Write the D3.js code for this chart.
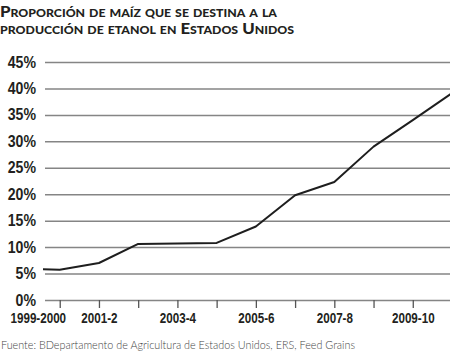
<!DOCTYPE html>
<html>
<head>
<meta charset="utf-8">
<script src="https://cdn.jsdelivr.net/npm/d3@7"></script>
<style>
	body { margin: 0; background: #fff; }
	svg { display: block; }
	.title { font-family: Lato, "Open Sans", sans-serif; font-weight: 900; font-size: 15px; font-variant: small-caps; fill: #231f20; }
	.source { font-family: Lato, "Noto Sans", sans-serif; font-weight: 300; font-size: 12px; fill: #444; }
	.axis text { font-family: "Liberation Sans Narrow", "Arial Narrow", "Liberation Sans", sans-serif; font-weight: bold; fill: #231f20; }
	.axis--left text { font-size: 17px; }
	.axis--bottom text { font-size: 14px; }
	.grid line { stroke: #858585; stroke-width: 1.5; }
	.axis--ticks line { stroke: #555; stroke-width: 1.3; }
	.chart-path { fill: none; stroke: #1e1e1e; stroke-width: 2; stroke-linejoin: round; }
</style>
</head>
<body>
<svg id="line-chart" width="450" height="354"></svg>
<script>
	// crop years (start year of each season)
	var seasonYears = [1999, 2000, 2001, 2002, 2003, 2004, 2005, 2006, 2007, 2008, 2009, 2010];
	// share of US corn used for ethanol, %
	var ethanolShare = [6.0, 5.7, 7.0, 10.6, 10.7, 10.8, 13.9, 19.8, 22.3, 29.0, 34.0, 39.1];
	var yTicks = [0, 5, 10, 15, 20, 25, 30, 35, 40, 45];
	var xTickYears = [2000, 2001, 2002, 2003, 2004, 2005, 2006, 2007, 2008, 2009];
	var xLabelYears = [1999, 2001, 2003, 2005, 2007, 2009];
	var xLabels = ["1999-2000", "2001-2", "2003-4", "2005-6", "2007-8", "2009-10"];
	var titleLines = ["Proporción de maíz que se destina a la", "producción de etanol en Estados Unidos"];
	var titleWidths = [277, 294];
	var sourceText = "Fuente: BDepartamento de Agricultura de Estados Unidos, ERS, Feed Grains";

	var svg = d3.select("#line-chart"),
		plotLeft = 45,
		plotRight = 450,
		plotTop = 62,
		plotBottom = 300,
		narrow = 0.83;

	var x = d3.scaleLinear()
		.domain([1999, 2010])
		.range([20.5, 452]);

	var y = d3.scaleLinear()
		.domain([0, 45])
		.range([plotBottom, plotTop]);

	// squeeze bold labels to a condensed width
	var condense = function(sel) {
		sel.each(function() {
			var w = this.getComputedTextLength();
			d3.select(this)
				.attr("textLength", w * narrow)
				.attr("lengthAdjust", "spacingAndGlyphs");
		});
	};

	// title
	svg.append("g")
		.selectAll("text")
		.data(titleLines)
		.enter()
		.append("text")
		.attr("class", "title")
		.attr("x", 0)
		.attr("y", function(d, i) { return 16.5 + i * 17; })
		.attr("textLength", function(d, i) { return titleWidths[i]; })
		.attr("lengthAdjust", "spacingAndGlyphs")
		.text(function(d) { return d; });

	// gridlines + y labels
	svg.append("g")
		.attr("class", "axis axis--left grid")
		.attr("transform", "translate(" + plotLeft + ",0)")
		.call(d3.axisLeft(y)
			.tickValues(yTicks)
			.tickSizeInner(-(plotRight - plotLeft))
			.tickSizeOuter(0)
			.tickPadding(9)
			.tickFormat(function(d) { return d + "%"; }))
		.call(function(g) { g.select(".domain").remove(); })
		.selectAll("text")
		.attr("dy", "0.3em")
		.call(condense);

	// ticks on the baseline
	svg.append("g")
		.attr("class", "axis axis--ticks")
		.attr("transform", "translate(0," + plotBottom + ")")
		.call(d3.axisBottom(x)
			.tickValues(xTickYears)
			.tickSize(8)
			.tickFormat(""))
		.call(function(g) { g.select(".domain").remove(); });

	// season labels
	var labelAxis = svg.append("g")
		.attr("class", "axis axis--bottom")
		.attr("transform", "translate(0," + plotBottom + ")")
		.call(d3.axisBottom(x)
			.tickValues(xLabelYears)
			.tickSize(0)
			.tickPadding(13)
			.tickFormat(function(d, i) { return xLabels[i]; }));
	labelAxis.select(".domain").remove();
	labelAxis.selectAll(".tick text").call(condense);
	// first label is pushed inside the frame
	labelAxis.selectAll(".tick text")
		.filter(function(d) { return d === 1999; })
		.attr("text-anchor", "start")
		.attr("x", 10 - x(1999));

	// clip the line to the plot
	svg.append("clipPath")
		.attr("id", "plot-clip")
		.append("rect")
		.attr("x", plotLeft - 2)
		.attr("y", 0)
		.attr("width", plotRight - plotLeft + 2)
		.attr("height", plotBottom + 5);

	var line = d3.line()
		.x(function(d, i) { return x(seasonYears[i]); })
		.y(function(d) { return y(d); });

	svg.append("path")
		.datum(ethanolShare)
		.attr("class", "chart-path")
		.attr("clip-path", "url(#plot-clip)")
		.attr("d", line);

	// source
	svg.append("text")
		.attr("class", "source")
		.attr("x", 1)
		.attr("y", 349)
		.attr("textLength", 354)
		.attr("lengthAdjust", "spacingAndGlyphs")
		.text(sourceText);
</script>
</body>
</html>
